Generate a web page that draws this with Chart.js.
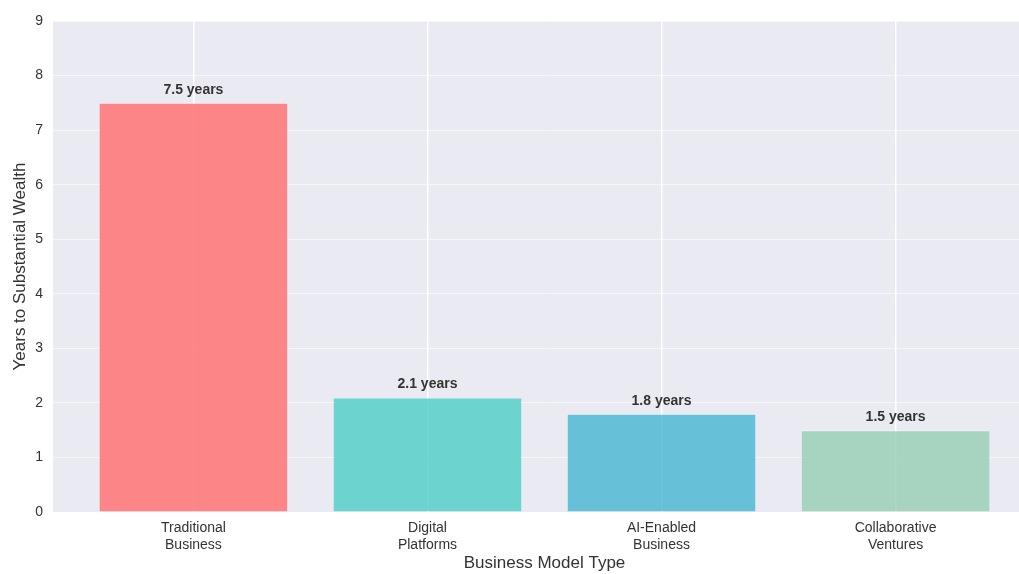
<!DOCTYPE html>
<html>
<head>
<meta charset="utf-8">
<script src="https://cdn.jsdelivr.net/npm/chart.js@4/dist/chart.umd.min.js"></script>
<style>
  html, body { margin: 0; padding: 0; background: #fff; overflow: hidden; width: 1019px; height: 574px; }
  #wrap { width: 1036px; height: 574px; position: relative; }
</style>
</head>
<body>
<div id="wrap"><canvas id="c"></canvas></div>
<script>
const categories = [["Traditional", "Business"], ["Digital", "Platforms"], ["AI-Enabled", "Business"], ["Collaborative", "Ventures"]];
const yearsToWealth = [7.5, 2.1, 1.8, 1.5];
const barColors = ["rgba(255,107,107,0.8)", "rgba(78,205,196,0.8)", "rgba(69,183,209,0.8)", "rgba(150,206,180,0.8)"];
const yTicks = [0, 1, 2, 3, 4, 5, 6, 7, 8, 9];

const FONT = "'Liberation Sans', Arial, sans-serif";

const valueLabels = {
  id: 'valueLabels',
  afterDatasetsDraw(chart) {
    const ctx = chart.ctx;
    const meta = chart.getDatasetMeta(0);
    ctx.save();
    ctx.font = "bold 14px " + FONT;
    ctx.fillStyle = "#333333";
    ctx.textAlign = "center";
    ctx.textBaseline = "bottom";
    meta.data.forEach((bar, i) => {
      ctx.fillText(yearsToWealth[i].toFixed(1) + " years", bar.x, bar.y - 6);
    });
    ctx.restore();
  }
};

const bgPlugin = {
  id: 'plotBg',
  beforeDraw(chart) {
    const {ctx, chartArea: a} = chart;
    ctx.save();
    ctx.fillStyle = "#EAEAF2";
    ctx.fillRect(a.left, a.top, a.right - a.left, a.bottom - a.top);
    ctx.restore();
  }
};

new Chart(document.getElementById('c'), {
  type: 'bar',
  data: {
    datasets: [{
      data: yearsToWealth.map((v, i) => ({x: i, y: v})),
      backgroundColor: barColors,
      borderColor: "rgba(255,255,255,0.35)",
      borderWidth: 1,
      barPercentage: 0.81,
      categoryPercentage: 1.0
    }]
  },
  options: {
    responsive: true,
    maintainAspectRatio: false,
    animation: false,
    layout: { padding: { top: 21, left: 0, right: 0, bottom: 0 } },
    plugins: { legend: { display: false }, tooltip: { enabled: false } },
    scales: {
      x: {
        type: 'linear',
        offset: false,
        min: -0.6,
        max: 3.6,
        afterBuildTicks(scale) { scale.ticks = categories.map((c, i) => ({value: i})); },
        afterFit(scale) { scale.height = 62; },
        border: { display: false },
        grid: { color: "#ffffff", lineWidth: 1.5, drawTicks: false, offset: false },
        ticks: {
          padding: 8,
          color: "#333333",
          font: { family: FONT, size: 14, lineHeight: 1.2 },
          callback: (v) => categories[v],
          maxRotation: 0,
          autoSkip: false
        },
        title: {
          display: true,
          text: "Business Model Type",
          color: "#333333",
          font: { family: FONT, size: 17 },
          padding: { top: 0, bottom: 0 }
        }
      },
      y: {
        min: 0,
        max: 9,
        afterBuildTicks(scale) { scale.ticks = yTicks.map(v => ({value: v})); },
        afterFit(scale) { scale.width = 53; },
        border: { display: false },
        grid: { color: "rgba(255,255,255,0.55)", lineWidth: 1, drawTicks: false },
        ticks: {
          padding: 10,
          color: "#333333",
          font: { family: FONT, size: 14 }
        },
        title: {
          display: true,
          text: "Years to Substantial Wealth",
          color: "#333333",
          font: { family: FONT, size: 17 },
          padding: { top: 10, bottom: 0 }
        }
      }
    }
  },
  plugins: [bgPlugin, valueLabels]
});
</script>
</body>
</html>
